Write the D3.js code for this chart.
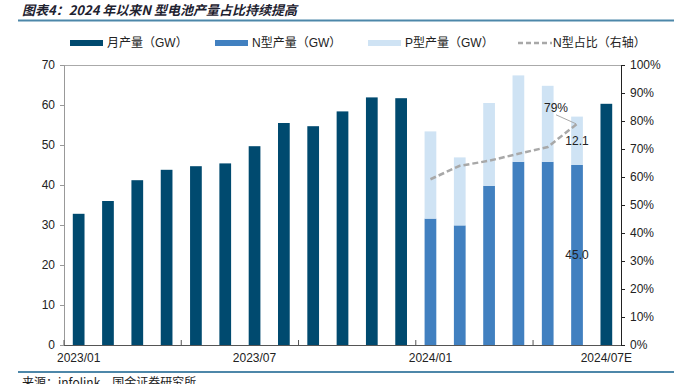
<!DOCTYPE html>
<html>
<head>
<meta charset="utf-8">
<script src="https://cdn.jsdelivr.net/npm/d3@7"></script>
<style>
  body { margin: 0; background: #fff; }
  text { font-family: "Liberation Sans", Arial, "Noto Sans CJK SC", sans-serif; }
</style>
</head>
<body>
<script>
var width = 674;
var height = 384;

var months = ["2023/01","2023/02","2023/03","2023/04","2023/05","2023/06","2023/07","2023/08","2023/09","2023/10",
              "2023/11","2023/12","2024/01","2024/02","2024/03","2024/04","2024/05","2024/06","2024/07E"];
var tickLabels = ["2023/01","2023/07","2024/01","2024/07E"];
// monthly output (GW), dark bars
var total = [32.8, 36.0, 41.2, 43.8, 44.7, 45.4, 49.7, 55.5, 54.7, 58.4, 61.9, 61.7, null, null, null, null, null, null, 60.3];
// N / P split (GW), 2024/01 - 2024/06
var nType = [null, null, null, null, null, null, null, null, null, null, null, null, 31.6, 29.9, 39.8, 45.8, 45.8, 45.0, null];
var pType = [null, null, null, null, null, null, null, null, null, null, null, null, 21.8, 17.0, 20.7, 21.6, 19.0, 12.1, null];
var nShare = [null, null, null, null, null, null, null, null, null, null, null, null, 0.592, 0.640, 0.658, 0.683, 0.707, 0.79, null];

var colDark = "#004a6f", colN = "#4180c0", colP = "#cfe3f4", colLine = "#a8a8a8";

var svg = d3.select("body").append("svg")
  .attr("width", width)
  .attr("height", height);

var pLeft = 64, pRight = 621, pTop = 65, pBottom = 345;

var x = d3.scaleBand().domain(months).range([pLeft, pRight]).paddingInner(0.6).paddingOuter(0.3);
var y = d3.scaleLinear().domain([0, 70]).range([pBottom, pTop]);
var y2 = d3.scaleLinear().domain([0, 1]).range([pBottom, pTop]);

// title
svg.append("text")
  .attr("x", 22).attr("y", 15)
  .style("font-family", "'Noto Sans CJK SC', sans-serif")
  .style("font-size", "13px").style("font-weight", "bold").style("font-style", "italic")
  .attr("fill", "#1e2230")
  .text("图表4：2024 年以来N 型电池产量占比持续提高");
svg.append("line").attr("x1", 18).attr("x2", width).attr("y1", 20.5).attr("y2", 20.5)
  .attr("stroke", "#4d87a9").attr("stroke-width", 2);

// legend
var legend = [
  {label: "月产量（GW）", x: 70, type: "rect", color: colDark},
  {label: "N型产量（GW）", x: 215, type: "rect", color: colN},
  {label: "P型产量（GW）", x: 368, type: "rect", color: colP},
  {label: "N型占比（右轴）", x: 518, type: "line", color: colLine}
];
var lg = svg.selectAll(".legend").data(legend).enter().append("g")
  .attr("class", "legend")
  .attr("transform", function(d) { return "translate(" + d.x + ",43)"; });
lg.filter(function(d) { return d.type == "rect"; }).append("rect")
  .attr("x", 0).attr("y", -3).attr("width", 33).attr("height", 6)
  .attr("fill", function(d) { return d.color; });
lg.filter(function(d) { return d.type == "line"; }).append("line")
  .attr("x1", 0).attr("x2", 34).attr("y1", 0).attr("y2", 0)
  .attr("stroke", colLine).attr("stroke-width", 2.5).attr("stroke-dasharray", "5,3");
lg.append("text")
  .attr("x", function(d) { return d.type == "line" ? 35 : 37; })
  .attr("y", 0).attr("dy", "0.35em")
  .style("font-size", "12px").attr("fill", "#222")
  .text(function(d) { return d.label; });

// top frame line
svg.append("line").attr("x1", pLeft).attr("x2", pRight).attr("y1", pTop + 0.5).attr("y2", pTop + 0.5)
  .attr("stroke", "#aaa").attr("stroke-width", 1);

// bars
var idx = d3.range(months.length);
svg.selectAll(".bar-total").data(idx.filter(function(i) { return total[i] != null; }))
  .enter().append("rect")
  .attr("x", function(i) { return x(months[i]); })
  .attr("width", x.bandwidth())
  .attr("y", function(i) { return y(total[i]); })
  .attr("height", function(i) { return y(0) - y(total[i]); })
  .attr("fill", colDark);

var stacked = idx.filter(function(i) { return nType[i] != null; });
svg.selectAll(".bar-n").data(stacked).enter().append("rect")
  .attr("x", function(i) { return x(months[i]); })
  .attr("width", x.bandwidth())
  .attr("y", function(i) { return y(nType[i]); })
  .attr("height", function(i) { return y(0) - y(nType[i]); })
  .attr("fill", colN);
svg.selectAll(".bar-p").data(stacked).enter().append("rect")
  .attr("x", function(i) { return x(months[i]); })
  .attr("width", x.bandwidth())
  .attr("y", function(i) { return y(nType[i] + pType[i]); })
  .attr("height", function(i) { return y(nType[i]) - y(nType[i] + pType[i]); })
  .attr("fill", colP);

// share line
var line = d3.line()
  .x(function(i) { return x(months[i]) + x.bandwidth() / 2; })
  .y(function(i) { return y2(nShare[i]); });
svg.append("path").datum(stacked)
  .attr("d", line)
  .attr("fill", "none").attr("stroke", colLine)
  .attr("stroke-width", 2.5).attr("stroke-dasharray", "6,3");

// data labels for 2024/06
var last = stacked[stacked.length - 1];
var cx = x(months[last]) + x.bandwidth() / 2;
svg.append("line")
  .attr("x1", cx - 21).attr("y1", y2(nShare[last]) - 9)
  .attr("x2", cx - 1).attr("y2", y2(nShare[last]))
  .attr("stroke", "#a8a8a8").attr("stroke-width", 1);
svg.append("text").attr("x", cx - 21).attr("y", y2(nShare[last]) - 12)
  .attr("text-anchor", "middle").style("font-size", "12px").attr("fill", "#222")
  .text(Math.round(nShare[last] * 100) + "%");
svg.append("text").attr("x", cx).attr("y", y(nType[last] + pType[last] / 2) + 4)
  .attr("text-anchor", "middle").style("font-size", "12px").attr("fill", "#222")
  .text(pType[last].toFixed(1));
svg.append("text").attr("x", cx).attr("y", y(nType[last] / 2) + 4)
  .attr("text-anchor", "middle").style("font-size", "12px").attr("fill", "#222")
  .text(nType[last].toFixed(1));

// left axis
var ax = svg.append("g")
  .attr("transform", "translate(" + pLeft + ",0)")
  .call(d3.axisLeft(y).tickValues(d3.range(0, 71, 10)).tickSize(4).tickPadding(5));
ax.select(".domain").attr("stroke", "#999");
ax.selectAll(".tick line").attr("stroke", "#999");
ax.selectAll("text").style("font-size", "12px").attr("fill", "#222").style("font-family", "'Liberation Sans', Arial, sans-serif");

// right axis
var ay = svg.append("g")
  .attr("transform", "translate(" + pRight + ",0)")
  .call(d3.axisRight(y2).tickValues(d3.range(0, 1.01, 0.1)).tickFormat(d3.format(".0%")).tickSize(4).tickPadding(5));
ay.select(".domain").attr("stroke", "#222");
ay.selectAll(".tick line").attr("stroke", "#222");
ay.selectAll("text").style("font-size", "12px").attr("fill", "#222").style("font-family", "'Liberation Sans', Arial, sans-serif");

// bottom axis
var tickPos = [0, 4, 8, 12, 16];
svg.selectAll(".xtick").data(tickPos).enter().append("line")
  .attr("x1", function(i) { return pLeft + i * (pRight - pLeft) / months.length; })
  .attr("x2", function(i) { return pLeft + i * (pRight - pLeft) / months.length; })
  .attr("y1", pBottom).attr("y2", pBottom - 5)
  .attr("stroke", "#555");
svg.append("line").attr("x1", pLeft).attr("x2", pRight).attr("y1", pBottom + 0.5).attr("y2", pBottom + 0.5)
  .attr("stroke", "#555");
svg.selectAll(".xlabel").data(tickLabels).enter().append("text")
  .attr("x", function(d) { return x(d) + x.bandwidth() / 2; })
  .attr("y", pBottom + 17)
  .attr("text-anchor", "middle")
  .style("font-size", "12px").attr("fill", "#222")
  .text(function(d) { return d; });

// footer
svg.append("line").attr("x1", 18).attr("x2", width).attr("y1", 372).attr("y2", 372)
  .attr("stroke", "#4d87a9").attr("stroke-width", 2);
svg.append("text").attr("x", 22).attr("y", 387)
  .style("font-family", "'Noto Sans CJK SC', sans-serif")
  .style("font-size", "12px").attr("fill", "#222")
  .text("来源：infolink，国金证券研究所");
</script>
</body>
</html>
